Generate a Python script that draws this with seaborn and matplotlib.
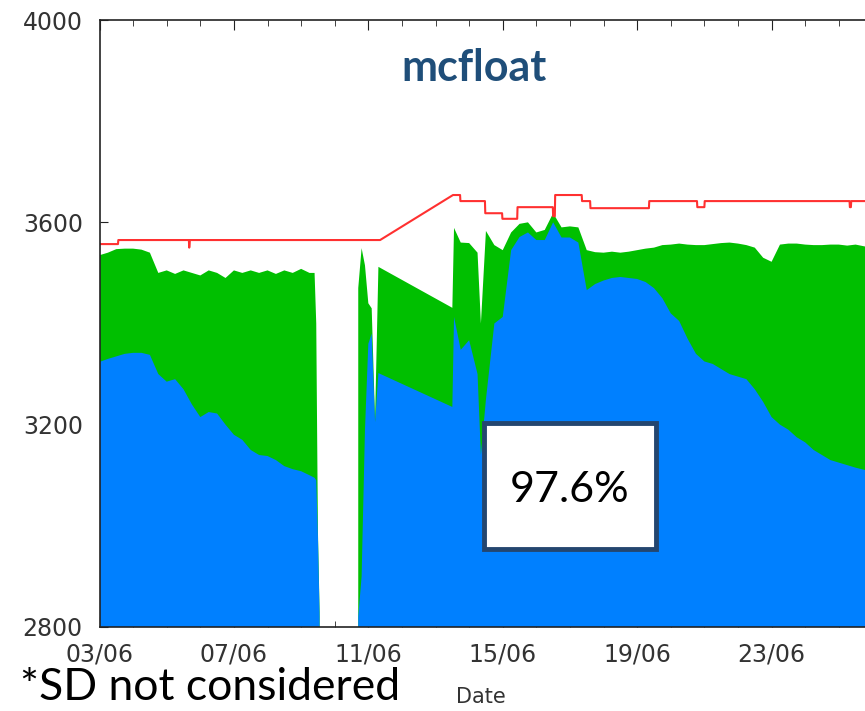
import numpy as np
import pandas as pd
import seaborn as sns
import matplotlib
matplotlib.use("Agg")
from matplotlib import pyplot as plt
from matplotlib import dates as mdates
from matplotlib.patches import Rectangle

START = pd.Timestamp("2013-06-03")

# days since 03/06 00:00 for the green / blue areas (nan = no data)
days = [0, 0.25, 0.5, 0.75, 1.0, 1.25, 1.5, 1.75, 2.0, 2.25, 2.5, 2.75, 3.0,
        3.25, 3.5, 3.75, 4.0, 4.25, 4.5, 4.75, 5.0, 5.25, 5.5, 5.75, 6.0,
        6.25, 6.4, 6.45, 6.5, 6.55, 6.6, 7.65, 7.7, 7.8, 7.9, 8.0, 8.1, 8.2,
        8.3, 10.5, 10.55, 10.75, 11.0, 11.25, 11.35, 11.5, 11.75, 12.0, 12.25,
        12.5, 12.75, 13.0, 13.25, 13.5, 13.75, 14.0, 14.25, 14.5, 14.75, 15.0,
        15.25, 15.5, 15.75, 16.0, 16.25, 16.5, 16.75, 17.0, 17.25, 17.5, 17.75,
        18.0, 18.25, 18.5, 18.75, 19.0, 19.25, 19.5, 19.75, 20.0, 20.25, 20.5,
        20.75, 21.0, 21.25, 21.5, 21.75, 22.0, 22.25, 22.5, 22.8]
claimed = [3535, 3540, 3547, 3548, 3548, 3546, 3540, 3500, 3505, 3498, 3505,
           3500, 3495, 3505, 3500, 3490, 3505, 3500, 3505, 3500, 3505, 3498,
           3505, 3500, 3508, 3500, 3500, 3400, 2990, 2830, np.nan, np.nan,
           3470, 3549, 3515, 3440, 3430, 3210, 3512, 3431, 3589, 3560, 3559,
           3540, 3400, 3583, 3555, 3545, 3580, 3597, 3600, 3580, 3585, 3618,
           3590, 3592, 3590, 3545, 3541, 3540, 3542, 3540, 3542, 3545, 3548,
           3550, 3555, 3556, 3558, 3556, 3555, 3555, 3557, 3559, 3560, 3558,
           3555, 3550, 3530, 3522, 3556, 3558, 3558, 3556, 3555, 3555, 3556,
           3556, 3554, 3556, 3552]
busy = [3324, 3330, 3335, 3340, 3342, 3342, 3338, 3300, 3285, 3290, 3270,
        3240, 3215, 3225, 3222, 3200, 3180, 3170, 3150, 3140, 3138, 3130,
        3118, 3112, 3108, 3100, 3095, 3090, 2980, 2820, np.nan, np.nan,
        2820, 2900, 3190, 3360, 3380, 3205, 3302, 3235, 3413, 3348, 3367,
        3300, 3140, 3250, 3400, 3413, 3545, 3571, 3580, 3565, 3565, 3600,
        3570, 3570, 3560, 3466, 3478, 3485, 3490, 3492, 3490, 3488, 3482,
        3470, 3450, 3420, 3405, 3370, 3340, 3325, 3320, 3310, 3300, 3295,
        3290, 3270, 3245, 3215, 3200, 3190, 3175, 3165, 3150, 3140, 3130,
        3125, 3120, 3115, 3110]

# red line (capacity), vertices of the stepped curve
cap_days = [0, 0.55, 0.56, 2.66, 2.67, 2.69, 8.35, 10.52, 10.73, 10.74, 11.47,
            11.48, 11.98, 11.99, 12.43, 12.44, 13.49, 13.5, 13.55, 13.56, 14.35,
            14.36, 14.6, 14.61, 16.35, 16.36, 17.78, 17.79, 18.0, 18.01, 22.32,
            22.33, 22.36, 22.37, 22.8]
cap = [3557, 3557, 3565, 3565, 3550, 3565, 3565, 3654, 3654, 3642, 3642,
       3618, 3618, 3607, 3607, 3630, 3630, 3612, 3612, 3654, 3654,
       3642, 3642, 3628, 3628, 3642, 3642, 3630, 3630, 3642, 3642,
       3630, 3630, 3642, 3642]

t = START + pd.to_timedelta(days, unit="D")
t_cap = START + pd.to_timedelta(cap_days, unit="D")

sns.set_style("ticks")
fig = plt.figure(figsize=(8.65, 7.11), dpi=100)
ax = fig.add_axes([99.5 / 865, 84 / 711, 1 - 99.5 / 865, 607 / 711])

ax.fill_between(t, 2800, np.array(claimed), color="#00bf00", lw=0)
ax.fill_between(t, 2800, np.array(busy), color="#0080ff", lw=0)
sns.lineplot(x=t_cap, y=cap, ax=ax, color="#ff3030", lw=1.5, estimator=None)

ax.set_ylim(2800, 4000)
ax.set_xlim(START, START + pd.Timedelta(days=22.78))
ax.set_yticks([2800, 3200, 3600, 4000])
ax.xaxis.set_major_locator(mdates.DayLocator(bymonthday=[3, 7, 11, 15, 19, 23, 27]))
ax.xaxis.set_minor_locator(mdates.DayLocator())
ax.xaxis.set_major_formatter(mdates.DateFormatter("%d/%m"))
ax.set_axisbelow(True)

ax.tick_params(axis="both", which="both", direction="in", color="#222222",
               labelcolor="#333333", labelsize=17)
ax.tick_params(axis="x", which="both", top=True, pad=11)
ax.tick_params(axis="x", which="major", length=7)
ax.tick_params(axis="x", which="minor", length=4)
ax.tick_params(axis="y", which="major", length=6, pad=12)
ax.spines["right"].set_visible(False)
for s in ["left", "top", "bottom"]:
    ax.spines[s].set_color("#222222")
    ax.spines[s].set_linewidth(1.2)

ax.set_xlabel("")
ax.set_ylabel("")
fig.text(481 / 865, 1 - 697 / 711, "Date", fontsize=15, color="#333333",
         ha="center", va="center")

fig.text(474 / 865, 1 - 68 / 711, "mcfloat", fontsize=31, fontweight="bold",
         color="#1f4e79", family="Lato", ha="center", va="center")

box = Rectangle((484 / 865, 1 - 549 / 711), 172 / 865, 126 / 711,
                transform=fig.transFigure, facecolor="white",
                edgecolor="#24466f", lw=3.5, zorder=5)
fig.patches.append(box)
fig.text(570 / 865, 1 - 490 / 711, "97.6%", fontsize=31, color="black",
         family="Lato", ha="center", va="center", zorder=6)

fig.text(20 / 865, 1 - 688 / 711, "*SD not considered", fontsize=32,
         color="black", family="Lato", ha="left", va="center")

plt.savefig("out.png", dpi=100)
